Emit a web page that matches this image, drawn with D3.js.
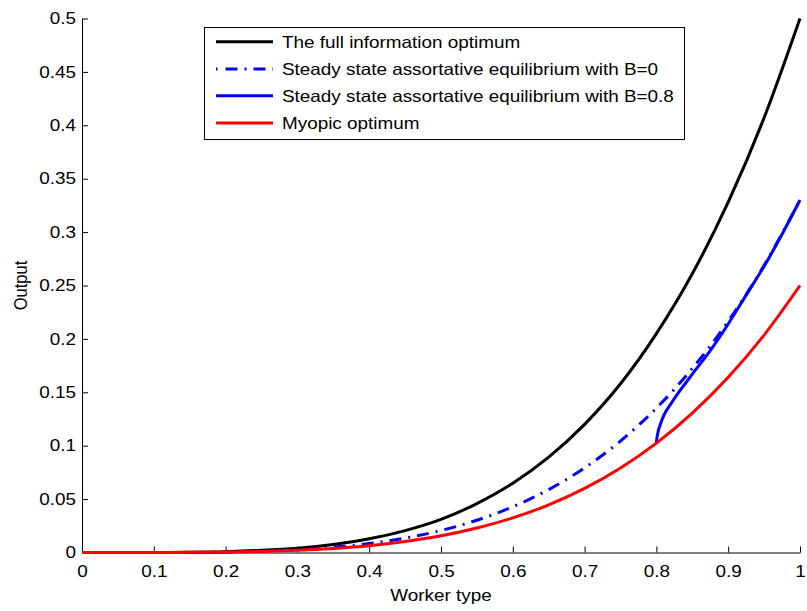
<!DOCTYPE html>
<html>
<head>
<meta charset="utf-8">
<script src="https://cdn.jsdelivr.net/npm/d3@7"></script>
<style>
  html, body { margin: 0; padding: 0; background: #fff; }
  svg { display: block; }
  text { font-family: "Liberation Sans", Arial, sans-serif; fill: #000; }
</style>
</head>
<body>
<script>
// ---------------- data ----------------
const xGrid = [0, 0.05, 0.1, 0.15, 0.2, 0.25, 0.3, 0.35, 0.4, 0.45, 0.5,
               0.55, 0.6, 0.65, 0.7, 0.75, 0.8, 0.85, 0.9, 0.95, 1.0];
const fullInfo = [0, 0.000003, 0.00005, 0.00025, 0.0008, 0.002, 0.004, 0.0075, 0.0128, 0.0205, 0.031,
                  0.0458, 0.0648, 0.0893, 0.12, 0.158, 0.205, 0.261, 0.328, 0.407, 0.5];
const assortB0 = [0, 0.000002, 0.00003, 0.00017, 0.0005, 0.0013, 0.0027, 0.005, 0.0084, 0.0135, 0.0206,
                  0.0302, 0.0428, 0.0589, 0.0792, 0.1044, 0.1352, 0.1723, 0.2165, 0.2688, 0.33];
const myopic = [0, 0.000002, 0.00003, 0.00013, 0.0004, 0.001, 0.002, 0.0038, 0.0064, 0.0103, 0.0156,
                0.0229, 0.0324, 0.0446, 0.06, 0.0791, 0.1024, 0.1305, 0.164, 0.2036, 0.25];
const assortB08X = [0.8, 0.8005, 0.802, 0.805, 0.81, 0.82, 0.83, 0.84, 0.85, 0.875, 0.9, 0.925, 0.95, 0.975, 1.0];
const assortB08Y = [0.1024, 0.106, 0.112, 0.119, 0.128, 0.139, 0.149, 0.158, 0.167, 0.189, 0.214, 0.241, 0.268, 0.298, 0.33];

const xTicks = [0, 0.1, 0.2, 0.3, 0.4, 0.5, 0.6, 0.7, 0.8, 0.9, 1];
const xTickLabels = ["0", "0.1", "0.2", "0.3", "0.4", "0.5", "0.6", "0.7", "0.8", "0.9", "1"];
const yTicks = [0, 0.05, 0.1, 0.15, 0.2, 0.25, 0.3, 0.35, 0.4, 0.45, 0.5];
const yTickLabels = ["0", "0.05", "0.1", "0.15", "0.2", "0.25", "0.3", "0.35", "0.4", "0.45", "0.5"];

const legendLabels = [
  "The full information optimum",
  "Steady state assortative equilibrium with B=0",
  "Steady state assortative equilibrium with B=0.8",
  "Myopic optimum"
];
const xLabel = "Worker type";
const yLabel = "Output";

// ---------------- layout ----------------
const W = 807, H = 611;
const mLeft = 82, mRight = 800, mTop = 18.5, mBottom = 552.5;
const fontSize = 16.5;
const sx = 1.145;   // horizontal stretch of the reference glyphs

const svg = d3.select("body").append("svg").attr("width", W).attr("height", H);

const x = d3.scaleLinear().domain([0, 1]).range([mLeft, mRight]);
const y = d3.scaleLinear().domain([0, 0.5]).range([mBottom, mTop]);

// axes (MATLAB style: inward ticks, left + bottom only)
const xAxis = d3.axisBottom(x).tickValues(xTicks)
  .tickFormat((d, i) => xTickLabels[i]).tickSizeInner(-6).tickSizeOuter(0).tickPadding(13);
const yAxis = d3.axisLeft(y).tickValues(yTicks)
  .tickFormat((d, i) => yTickLabels[i]).tickSizeInner(-6).tickSizeOuter(0).tickPadding(6);

const gx = svg.append("g").attr("transform", `translate(0,${mBottom})`).call(xAxis);
const gy = svg.append("g").attr("transform", `translate(${mLeft},0)`).call(yAxis);
[gx, gy].forEach(g => {
  g.select(".domain").attr("stroke", "#000").attr("stroke-width", 1);
  g.selectAll(".tick line").attr("stroke", "#000").attr("stroke-width", 1);
  g.selectAll(".tick text").attr("font-size", fontSize)
    .attr("font-family", "Liberation Sans, Arial, sans-serif").attr("fill", "#000");
});
gx.selectAll(".tick text").attr("dy", "0.71em").attr("transform", `scale(${sx},1)`);
gy.selectAll(".tick text").attr("x", -6 / sx).attr("transform", `scale(${sx},1)`);

// axis labels
svg.append("text").attr("transform", `translate(${x(0.5)},601) scale(${sx},1)`)
  .attr("text-anchor", "middle").attr("font-size", fontSize).text(xLabel);
svg.append("text").attr("transform", `translate(27,${(mTop + mBottom) / 2}) scale(${sx},1) rotate(-90)`)
  .attr("text-anchor", "middle").attr("font-size", fontSize).text(yLabel);

// lines
const line = d3.line().x(d => x(d[0])).y(d => y(d[1])).curve(d3.curveMonotoneX);
const series = [
  { pts: xGrid.map((v, i) => [v, fullInfo[i]]), color: "#000000", dash: null },
  { pts: xGrid.map((v, i) => [v, assortB0[i]]), color: "#0000ff", dash: "12,7,2,7" },
  { pts: assortB08X.map((v, i) => [v, assortB08Y[i]]), color: "#0000ff", dash: null },
  { pts: xGrid.map((v, i) => [v, myopic[i]]), color: "#ff0000", dash: null }
];
series.forEach(s => {
  svg.append("path").attr("d", line(s.pts)).attr("fill", "none")
    .attr("stroke", s.color).attr("stroke-width", 3)
    .attr("stroke-dasharray", s.dash).attr("stroke-linejoin", "round");
});

// legend
const lg = svg.append("g");
lg.append("rect").attr("x", 204.5).attr("y", 27.5).attr("width", 480).attr("height", 112)
  .attr("fill", "#fff").attr("stroke", "#000").attr("stroke-width", 1);
const rowY = [41.7, 69, 95.7, 123];
legendLabels.forEach((lab, i) => {
  lg.append("line").attr("x1", 216).attr("x2", 273).attr("y1", rowY[i]).attr("y2", rowY[i])
    .attr("stroke", series[i].color).attr("stroke-width", 3)
    .attr("stroke-dasharray", i === 1 ? "1.5,8,12,7,2,7,12,7,2" : null);
  lg.append("text").attr("transform", `translate(282,${rowY[i] + 6}) scale(${sx},1)`)
    .attr("font-size", fontSize).text(lab);
});
</script>
</body>
</html>
